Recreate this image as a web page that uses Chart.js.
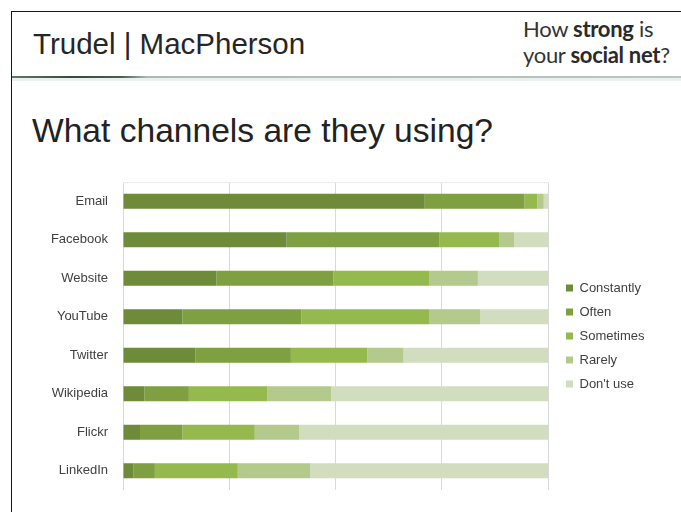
<!DOCTYPE html>
<html>
<head>
<meta charset="utf-8">
<script src="https://cdn.jsdelivr.net/npm/chart.js@4"></script>
<style>
  html, body { margin: 0; padding: 0; background: #fff; }
  body { width: 681px; height: 512px; position: relative; overflow: hidden; }
  .frameTop { position: absolute; left: 11px; top: 11px; width: 670px; height: 1px; background: #161616; }
  .frameLeft { position: absolute; left: 11px; top: 11px; width: 1px; height: 501px; background: #161616; }
  .brand { position: absolute; left: 33px; top: 29px; font: 29.5px/30px "Liberation Sans", Arial, sans-serif; color: #262626; white-space: nowrap; }
  .tag { position: absolute; left: 523px; top: 16px; font: 22px/26px Lato, "Open Sans", sans-serif; color: #333; white-space: nowrap; letter-spacing: -0.3px; }
  .tag b { font-weight: 700; color: #2a2a2a; }
  .rule { position: absolute; left: 12px; top: 76px; width: 669px; height: 2px;
          background: linear-gradient(to right, #5d7a62 0px, #2f4f3a 60px, #46624f 110px, #a9bcb6 135px, #b7c7c2 100%); }
  .rule2 { position: absolute; left: 12px; top: 78px; width: 669px; height: 3px; background: #e9f0ee; }
  .title { position: absolute; left: 32px; top: 114px; font: 33.6px/34px "Liberation Sans", Arial, sans-serif; color: #222; white-space: nowrap; }
  #wrap { position: absolute; left: 0; top: 170px; width: 681px; height: 330px; }
</style>
</head>
<body>
<div class="frameTop"></div>
<div class="frameLeft"></div>
<div class="brand">Trudel | MacPherson</div>
<div class="tag">How <b>strong</b> is<br>your <b>social net</b>?</div>
<div class="rule"></div>
<div class="rule2"></div>
<div class="title">What channels are they using?</div>
<div id="wrap"><canvas id="c" width="681" height="330"></canvas></div>
<script>
// Categories (top to bottom)
const channels = ["Email", "Facebook", "Website", "YouTube", "Twitter", "Wikipedia", "Flickr", "LinkedIn"];
// Series values, percent of respondents
const constantly = [71, 38.5, 22, 14, 17, 5, 4, 2.5];
const often      = [23.5, 36, 27.5, 28, 22.5, 10.5, 10, 5];
const sometimes  = [3, 14, 22.5, 30, 18, 18.5, 17, 19.5];
const rarely     = [1.5, 3.5, 11.5, 12, 8.5, 15, 10.5, 17];
const dontUse    = [1, 8, 16.5, 16, 34, 51, 58.5, 56];
// Series names
const seriesNames = ["Constantly", "Often", "Sometimes", "Rarely", "Don't use"];

const colors = ["#6d8b38", "#7fa040", "#94b94c", "#b4c98c", "#d1ddbe"];
const values = [constantly, often, sometimes, rarely, dontUse];

Chart.defaults.font.family = '"Liberation Sans", Arial, sans-serif';

const legendFix = {
  id: 'legendFix',
  afterInit(chart) {
    const lg = chart.legend;
    if (lg) {
      const fit = lg.fit.bind(lg);
      lg.fit = function () { fit(); this.width = 133; };
    }
  },
  afterLayout(chart) {
    const lg = chart.legend;
    if (lg) { lg.left += 7; lg.right += 7; }
  }
};

new Chart(document.getElementById('c'), {
  type: 'bar',
  data: {
    labels: channels,
    datasets: seriesNames.map((n, i) => ({
      label: n,
      data: values[i],
      backgroundColor: colors[i],
      borderWidth: 0,
      barPercentage: 0.39,
      categoryPercentage: 1
    }))
  },
  options: {
    indexAxis: 'y',
    responsive: false,
    animation: false,
    devicePixelRatio: 1,
    layout: { padding: { left: 0, right: 0, top: 12, bottom: 10 } },
    plugins: {
      tooltip: { enabled: false },
      legend: {
        position: 'right',
        align: 'center',
        labels: {
          boxWidth: 7,
          boxHeight: 7,
          padding: 11,
          color: '#404040',
          font: { size: 13 }
        }
      }
    },
    scales: {
      x: {
        stacked: true,
        position: 'top',
        min: 0,
        max: 100,
        ticks: { display: false, stepSize: 25 },
        grid: { color: '#d9d9d9', drawTicks: false, lineWidth: 1 },
        border: { display: true, color: '#ececec' },
        afterFit(s) { s.height = 0; s.paddingLeft = 0; s.paddingRight = 0; }
      },
      y: {
        stacked: true,
        grid: { display: false, drawTicks: false },
        border: { display: false },
        ticks: { color: '#404040', font: { size: 13 }, padding: 15 },
        afterFit(s) { s.width = 123; s.paddingTop = 0; s.paddingBottom = 0; }
      }
    }
  },
  plugins: [legendFix]
});
</script>
</body>
</html>
